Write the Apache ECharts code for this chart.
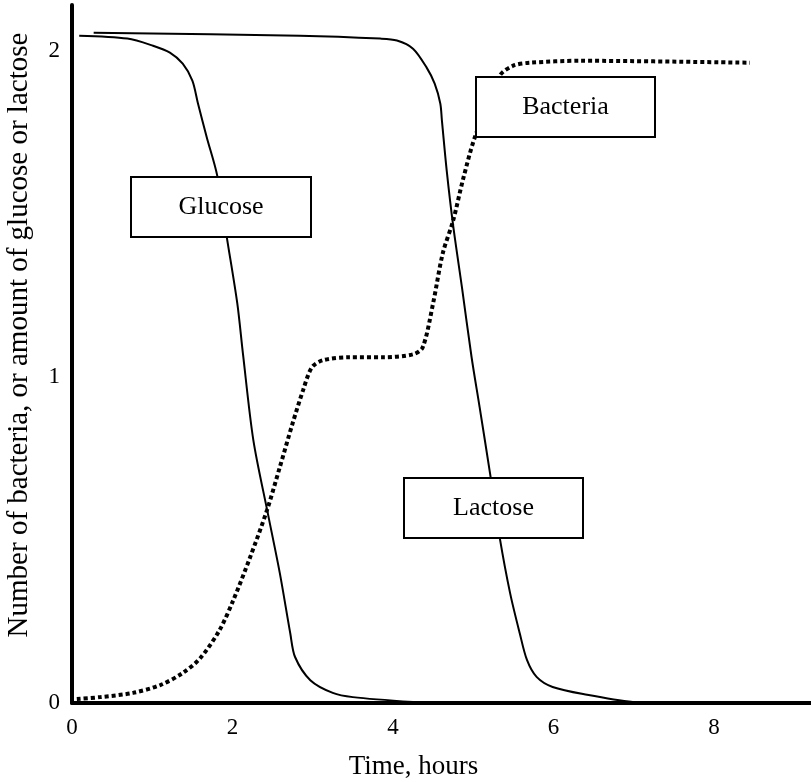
<!DOCTYPE html>
<html>
<head>
<meta charset="utf-8">
<script src="https://cdn.jsdelivr.net/npm/echarts@6/dist/echarts.min.js"></script>
<style>
html,body{margin:0;padding:0;background:#fff;}
#chart{width:811px;height:782px;}
</style>
</head>
<body>
<div id="chart"></div>
<script>
// Time (hours), value pairs
var glucose = [
  [0.09,2.046],[0.69,2.037],[1.01,2.015],[1.22,1.994],[1.38,1.960],[1.50,1.908],
  [1.57,1.838],[1.68,1.734],[1.81,1.617],[1.93,1.427],[2.06,1.225],[2.13,1.072],
  [2.26,0.806],[2.44,0.582],[2.59,0.398],[2.72,0.214],[2.78,0.141],[2.97,0.070],
  [3.25,0.031],[3.50,0.018],[4.25,0.003]
];
var lactose = [
  [0.27,2.055],[2.84,2.046],[3.84,2.037],[4.05,2.031],[4.25,2.006],[4.42,1.948],
  [4.52,1.899],[4.59,1.838],[4.61,1.786],[4.67,1.632],[4.75,1.464],[4.86,1.274],
  [4.98,1.060],[5.08,0.907],[5.21,0.704],[5.33,0.508],[5.46,0.337],[5.58,0.214],
  [5.67,0.132],[5.79,0.080],[5.99,0.049],[6.42,0.025],[6.99,0.003],[7.41,0]
];
var bacteria = [
  [0.06,0.012],[0.35,0.018],[0.76,0.031],[1.10,0.055],[1.38,0.092],[1.60,0.138],
  [1.84,0.224],[2.01,0.315],[2.22,0.447],[2.43,0.591],[2.59,0.723],[2.75,0.858],
  [2.88,0.959],[2.99,1.029],[3.13,1.051],[3.46,1.060],[3.88,1.060],[4.25,1.069],
  [4.37,1.090],[4.50,1.225],[4.62,1.378],[4.75,1.479],[4.87,1.602],[5.02,1.734],
  [5.33,1.923],[5.50,1.954],[5.71,1.963],[6.33,1.969],[8.45,1.963]
];
var xTicks = [0,2,4,6,8];
var yTicks = [0,1,2];
var boxLabels = ['Glucose','Bacteria','Lactose'];
var xTitle = 'Time, hours';
var yTitle = 'Number of bacteria, or amount of glucose or lactose';

var FONT = '"Liberation Serif", "DejaVu Serif", serif';
var chart = echarts.init(document.getElementById('chart'));

function box(label, l, t, w, h){
  return {
    type:'group', left:l, top:t, z:100,
    children:[
      {type:'rect', shape:{x:0,y:0,width:w,height:h}, style:{fill:'#fff', stroke:'#000', lineWidth:2}, z:100},
      {type:'text', x:w/2, y:h/2, z:101, style:{text:label, fill:'#000', font:'26px ' + FONT, align:'center', verticalAlign:'middle'}}
    ]
  };
}

chart.setOption({
  animation:false,
  backgroundColor:'#fff',
  grid:{left:72, right:0, top:5, bottom:79, containLabel:false, outerBoundsMode:'none'},
  xAxis:{
    type:'value', min:0, max:9.21, interval:2,
    axisLine:{show:true, lineStyle:{color:'#000', width:4}},
    axisTick:{show:false}, splitLine:{show:false},
    axisLabel:{color:'#000', fontFamily:FONT, fontSize:23, margin:13,
      showMaxLabel:false,
      formatter:function(v){ return xTicks.indexOf(v) >= 0 ? String(v) : ''; }},
    name:xTitle, nameLocation:'middle', nameGap:50,
    nameTextStyle:{color:'#000', fontFamily:FONT, fontSize:27, padding:[0,56,0,0]}
  },
  yAxis:{
    type:'value', min:0, max:2.14, interval:1,
    axisLine:{show:true, lineStyle:{color:'#000', width:4}},
    axisTick:{show:false}, splitLine:{show:false},
    axisLabel:{color:'#000', fontFamily:FONT, fontSize:23, margin:12,
      showMaxLabel:false,
      formatter:function(v){ return yTicks.indexOf(v) >= 0 ? String(v) : ''; }},
    name:yTitle, nameLocation:'middle', nameGap:38, nameRotate:90,
    nameTextStyle:{color:'#000', fontFamily:FONT, fontSize:29, padding:[0,0,0,38]}
  },
  series:[
    {name:'Glucose', type:'line', data:glucose, symbol:'none', smooth:0.3,
      lineStyle:{color:'#000', width:2}, z:3},
    {name:'Lactose', type:'line', data:lactose, symbol:'none', smooth:0.3,
      lineStyle:{color:'#000', width:2}, z:3},
    {name:'Bacteria', type:'line', data:bacteria, symbol:'none', smooth:0.3,
      lineStyle:{color:'#000', width:4, type:[4,3], cap:'butt'}, z:4}
  ],
  graphic:[
    box(boxLabels[0], 130, 176, 180, 60),
    box(boxLabels[1], 475, 76, 179, 60),
    box(boxLabels[2], 403, 477, 179, 60)
  ]
});
</script>
</body>
</html>
